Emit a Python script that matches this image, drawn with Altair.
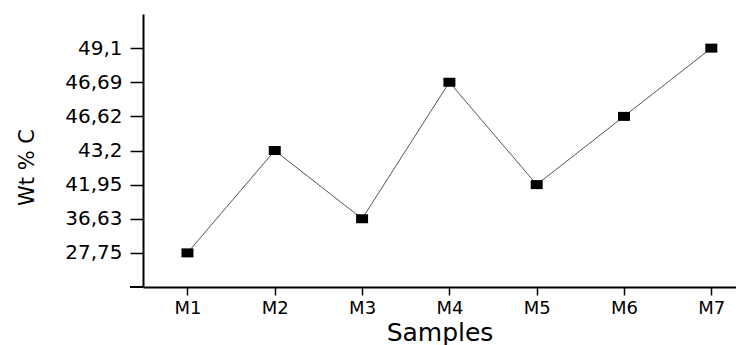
import altair as alt
import pandas as pd

samples = ["M1", "M2", "M3", "M4", "M5", "M6", "M7"]
wt_c = [27.75, 43.2, 36.63, 46.69, 41.95, 46.62, 49.1]

df = pd.DataFrame({"sample": samples, "wt": wt_c})

W, H = 593, 273
FONT = "DejaVu Sans"

x_enc = alt.X(
    "sample:N",
    sort=samples,
    scale=alt.Scale(type="point", padding=0.396, align=0.643),
    axis=alt.Axis(
        title="Samples", labelAngle=0, grid=False,
        domainColor="black", domainWidth=2,
        tickColor="black", tickSize=8, tickWidth=1.5,
        labelFont=FONT, labelFontSize=18, labelColor="black", labelPadding=4,
        titleFont=FONT, titleFontSize=25, titleFontWeight="normal",
        titleColor="black", titleBaseline="alphabetic", titleY=53,
    ),
)
y_enc = alt.Y(
    "wt:O",
    sort="descending",
    scale=alt.Scale(type="point", padding=1),
    axis=alt.Axis(
        title="Wt % C", grid=False,
        labelExpr="replace(datum.label, '.', ',')",
        domainColor="black", domainWidth=2,
        tickColor="black", tickSize=13, tickWidth=1.5,
        labelFont=FONT, labelFontSize=20, labelColor="black", labelPadding=8,
        titleFont=FONT, titleFontSize=21, titleFontWeight="normal",
        titleColor="black", titleAngle=270, titleX=-110, titleY=153,
        titleBaseline="alphabetic", titleAlign="center",
    ),
)

base = alt.Chart(df)
line = base.mark_line(color="#555555", strokeWidth=1).encode(x=x_enc, y=y_enc)
pts = base.mark_point(
    shape="M-1,-0.75L1,-0.75L1,0.75L-1,0.75Z",
    size=144, filled=True, color="black", opacity=1, strokeWidth=0,
).encode(x=x_enc, y=y_enc)

ext = alt.Chart(alt.Data(values=[{}])).mark_rule(color="black", strokeWidth=2).encode(
    x=alt.value(-13), x2=alt.value(0), y=alt.value(H)
)

chart = alt.layer(line, pts, ext).properties(
    width=W, height=H,
    autosize=alt.AutoSizeParams(type="none"),
    padding={"left": 135, "top": 6, "right": 0, "bottom": 61},
).configure(background="white").configure_view(strokeWidth=0, stroke="transparent")

chart.save("out.html", embed_options={"renderer": "svg", "actions": False})
